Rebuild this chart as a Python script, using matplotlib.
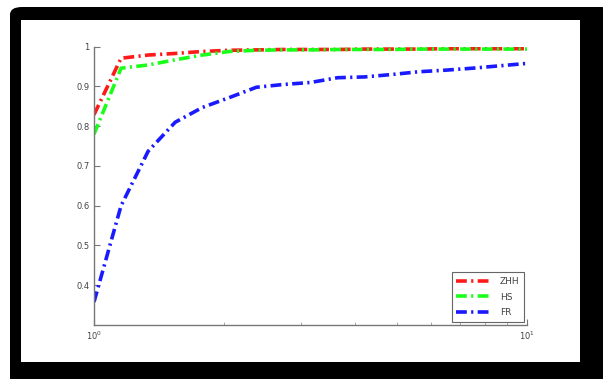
import numpy as np
import matplotlib
matplotlib.use('Agg')
import matplotlib.pyplot as plt
from matplotlib.patches import FancyBboxPatch, Rectangle
from matplotlib.ticker import NullFormatter

# 17 points, evenly spaced on the log axis between 10^0 and 10^1
x = np.logspace(0, 1, 17)

zhh = [0.829, 0.971, 0.979, 0.983, 0.988, 0.991, 0.992, 0.993, 0.993,
       0.993, 0.994, 0.994, 0.994, 0.995, 0.995, 0.995, 0.995]
hs = [0.780, 0.946, 0.954, 0.967, 0.979, 0.988, 0.991, 0.992, 0.992,
      0.993, 0.993, 0.993, 0.994, 0.994, 0.994, 0.994, 0.994]
fr = [0.358, 0.600, 0.737, 0.810, 0.847, 0.872, 0.898, 0.905, 0.910,
      0.922, 0.924, 0.930, 0.937, 0.941, 0.946, 0.952, 0.958]

labels = ['ZHH', 'HS', 'FR']
colors = ['#ff1a1a', '#1aff1a', '#1a1aff']

W, H = 603, 379
fig = plt.figure(figsize=(W / 100, H / 100), dpi=100, facecolor='white')

# black frame with a white panel inside
frame = FancyBboxPatch((10 / W, -0.05), 1.0, 1 - 7 / H + 0.05,
                       boxstyle='round,pad=0,rounding_size=0.02',
                       transform=fig.transFigure, facecolor='black',
                       edgecolor='none', zorder=0)
fig.patches.append(frame)
panel = Rectangle((21 / W, 1 - 362 / H), (580 - 21) / W, (362 - 20) / H,
                  transform=fig.transFigure, facecolor='white',
                  edgecolor='none', zorder=1)
fig.patches.append(panel)

ax = fig.add_axes([94 / W, 1 - 325 / H, (527 - 94) / W, (325 - 46.7) / H])
ax.set_zorder(2)

for y, lab, c in zip([zhh, hs, fr], labels, colors):
    ax.plot(x, y, color=c, lw=2.6, dashes=(3, 1.2, 0.6, 1.2), label=lab)

ax.set_xscale('log')
ax.set_xlim(1, 10)
ax.set_ylim(0.3, 1.0)
ax.set_yticks([0.4, 0.5, 0.6, 0.7, 0.8, 0.9, 1.0])
ax.set_yticklabels(['0.4', '0.5', '0.6', '0.7', '0.8', '0.9', '1'])
ax.set_xticks([1, 10])
ax.set_xticklabels(['$10^0$', '$10^1$'])
ax.xaxis.set_minor_formatter(NullFormatter())

for s in ['top', 'right']:
    ax.spines[s].set_visible(False)
for s in ['left', 'bottom']:
    ax.spines[s].set_color('#777777')
    ax.spines[s].set_linewidth(1.0)

ax.tick_params(direction='in', length=4, width=0.8, colors='#777777',
               labelcolor='#444444', labelsize=6)
ax.tick_params(which='minor', direction='in', length=2.5, width=0.6,
               colors='#999999')
ax.tick_params(axis='y', pad=3)

leg = ax.legend(loc='lower right', fontsize=6.5, handlelength=3.8,
                borderaxespad=0.35, fancybox=False, framealpha=1,
                labelspacing=0.75, handletextpad=1.0, borderpad=0.5)
leg.get_frame().set_edgecolor('#666666')
leg.get_frame().set_linewidth(0.8)
for t in leg.get_texts():
    t.set_color('#444444')

fig.savefig('out.png', dpi=100, facecolor='white')
